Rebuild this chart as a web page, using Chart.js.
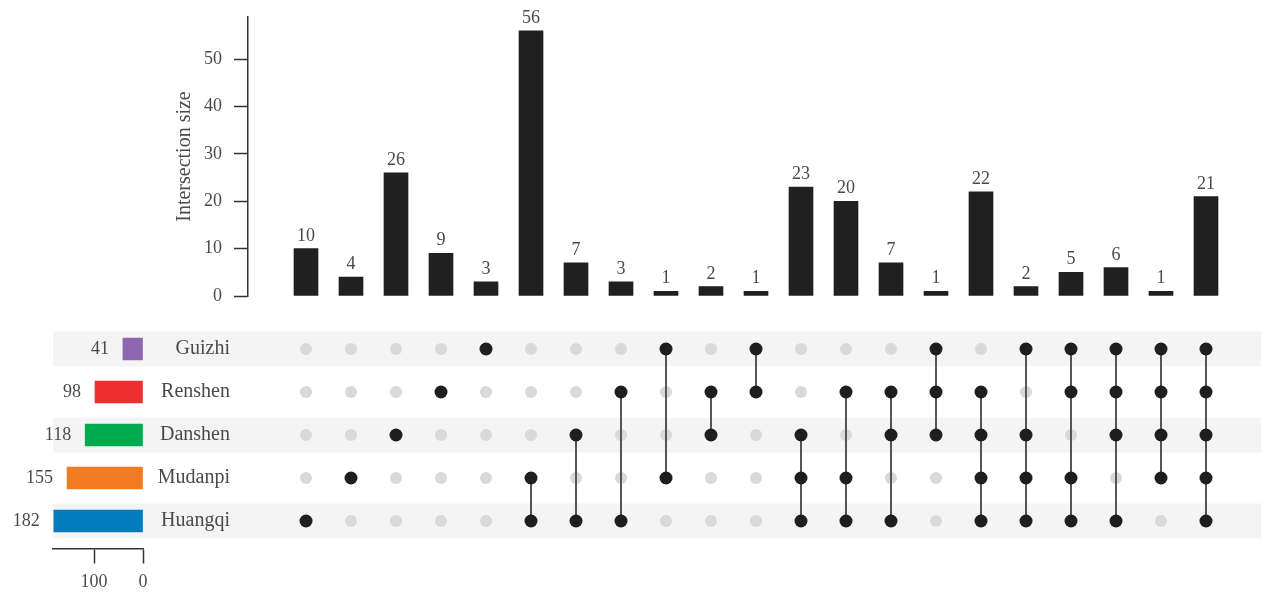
<!DOCTYPE html>
<html>
<head>
<meta charset="utf-8">
<script src="https://cdn.jsdelivr.net/npm/chart.js@4.4.1/dist/chart.umd.min.js"></script>
<style>
  body { margin: 0; background: #fff; }
  #wrap { position: relative; width: 1261px; height: 595px; }
  #wrap canvas { position: absolute; left: 0; top: 0; }
</style>
</head>
<body>
<div id="wrap">
  <canvas id="matrixChart" width="1261" height="595"></canvas>
  <canvas id="setsChart" width="1261" height="595"></canvas>
  <canvas id="barsChart" width="1261" height="595"></canvas>
</div>
<script>
    // data
    const setNames = ['Guizhi', 'Renshen', 'Danshen', 'Mudanpi', 'Huangqi'];
    const setSizes = [41, 98, 118, 155, 182];
    const setColors = ['#8e67b0', '#ee2f2f', '#00aa4e', '#f37c22', '#007bbd'];
    const intersectionSizes = [10, 4, 26, 9, 3, 56, 7, 3, 1, 2, 1, 23, 20, 7, 1, 22, 2, 5, 6, 1, 21];
    const intersectionSets = [
      ['Huangqi'], ['Mudanpi'], ['Danshen'], ['Renshen'], ['Guizhi'],
      ['Mudanpi', 'Huangqi'], ['Danshen', 'Huangqi'], ['Renshen', 'Huangqi'], ['Guizhi', 'Mudanpi'],
      ['Renshen', 'Danshen'], ['Guizhi', 'Renshen'],
      ['Danshen', 'Mudanpi', 'Huangqi'], ['Renshen', 'Mudanpi', 'Huangqi'], ['Renshen', 'Danshen', 'Huangqi'],
      ['Guizhi', 'Renshen', 'Danshen'],
      ['Renshen', 'Danshen', 'Mudanpi', 'Huangqi'], ['Guizhi', 'Danshen', 'Mudanpi', 'Huangqi'],
      ['Guizhi', 'Renshen', 'Mudanpi', 'Huangqi'], ['Guizhi', 'Renshen', 'Danshen', 'Huangqi'],
      ['Guizhi', 'Renshen', 'Danshen', 'Mudanpi'],
      ['Guizhi', 'Renshen', 'Danshen', 'Mudanpi', 'Huangqi']
    ];
    const sizeTicks = [0, 10, 20, 30, 40, 50];
    const setSizeTicks = [0, 100];

    // shared column range so bars and matrix line up
    const colMin = -0.2889, colMax = 21.5;
    const FONT = "'Liberation Serif', 'DejaVu Serif', serif";
    const TEXT = '#4a4a4a';
    const AXIS = '#333333';

    Chart.defaults.font.family = FONT;
    Chart.defaults.font.size = 18;
    Chart.defaults.color = TEXT;

    // Intersection bars
    const barLabels = {
      id: 'barLabels',
      afterDatasetsDraw(chart) {
        const ctx = chart.ctx;
        ctx.save();
        ctx.font = '18px ' + FONT;
        ctx.fillStyle = TEXT;
        ctx.textAlign = 'center';
        ctx.textBaseline = 'alphabetic';
        chart.getDatasetMeta(0).data.forEach((bar, i) => {
          ctx.fillText(String(intersectionSizes[i]), bar.x, bar.y - 8);
        });
        ctx.restore();
      }
    };

    const barsChart = new Chart(document.getElementById('barsChart'), {
      type: 'bar',
      data: {
        datasets: [{
          data: intersectionSizes.map((v, i) => ({ x: i + 1, y: v })),
          backgroundColor: '#202020',
          barThickness: 24
        }]
      },
      options: {
        responsive: false,
        animation: false,
        events: [],
        layout: { padding: { left: 173, top: 17, right: 32.5, bottom: 299 } },
        plugins: { legend: { display: false }, tooltip: { enabled: false } },
        scales: {
          x: { type: 'linear', display: false, offset: false, grid: { offset: false }, bounds: 'data', min: colMin, max: colMax },
          y: {
            min: 0, max: 58.9,
            afterFit: s => { s.width = 75; s.paddingTop = 0; s.paddingBottom = 0; },
            afterBuildTicks: s => { s.ticks = sizeTicks.map(v => ({ value: v })); },
            border: { color: AXIS, width: 1.5 },
            grid: { drawOnChartArea: false, tickLength: 14, color: AXIS, tickWidth: 1.5 },
            ticks: { padding: 12, color: TEXT },
            title: { display: true, text: 'Intersection size', padding: 0, color: TEXT, font: { size: 20 } }
          }
        }
      },
      plugins: [barLabels]
    });

    // Matrix of dots
    const bands = {
      id: 'bands',
      beforeDraw(chart) {
        const y = chart.scales.y, ctx = chart.ctx;
        ctx.save();
        ctx.fillStyle = '#f4f4f4';
        setNames.forEach((n, i) => {
          if (i % 2 === 0) {
            const py = y.getPixelForValue(i);
            ctx.fillRect(53, py - 17.5, chart.width - 53, 35);
          }
        });
        ctx.restore();
      }
    };

    const greyDots = [];
    intersectionSets.forEach((sets, i) => {
      setNames.forEach(n => { if (!sets.includes(n)) greyDots.push({ x: i + 1, y: n }); });
    });
    const memberDatasets = intersectionSets.map((sets, i) => ({
      data: setNames.filter(n => sets.includes(n)).map(n => ({ x: i + 1, y: n })),
      showLine: true,
      borderColor: '#555555',
      borderWidth: 2,
      pointRadius: 6.5,
      pointBorderWidth: 0,
      pointBackgroundColor: '#1e1e1e'
    }));

    const matrixChart = new Chart(document.getElementById('matrixChart'), {
      type: 'scatter',
      data: {
        datasets: memberDatasets.concat([{
          data: greyDots,
          pointRadius: 6,
          pointBorderWidth: 0,
          pointBackgroundColor: '#d8d9db'
        }])
      },
      options: {
        responsive: false,
        animation: false,
        events: [],
        layout: { padding: { left: 0, top: 327.5, right: 32.5, bottom: 52.5 } },
        plugins: { legend: { display: false }, tooltip: { enabled: false } },
        scales: {
          x: { type: 'linear', display: false, min: colMin, max: colMax },
          y: {
            type: 'category',
            labels: setNames,
            offset: true,
            afterFit: s => { s.width = 248; },
            border: { display: false },
            grid: { display: false, drawTicks: false },
            ticks: { padding: 18, color: TEXT, font: { size: 20 } }
          }
        }
      },
      plugins: [bands]
    });

    // Set sizes
    const setLabels = {
      id: 'setLabels',
      afterDatasetsDraw(chart) {
        const ctx = chart.ctx;
        ctx.save();
        ctx.font = '18px ' + FONT;
        ctx.fillStyle = TEXT;
        ctx.textAlign = 'right';
        ctx.textBaseline = 'middle';
        chart.getDatasetMeta(0).data.forEach((bar, i) => {
          ctx.fillText(String(setSizes[i]), bar.x - 14, bar.y);
        });
        ctx.restore();
      }
    };

    const setsChart = new Chart(document.getElementById('setsChart'), {
      type: 'bar',
      data: {
        labels: setNames,
        datasets: [{ data: setSizes, backgroundColor: setColors, barThickness: 22 }]
      },
      options: {
        indexAxis: 'y',
        responsive: false,
        animation: false,
        events: [],
        layout: { padding: { left: 53, top: 327.5, right: 1118, bottom: 52.5 } },
        plugins: { legend: { display: false }, tooltip: { enabled: false } },
        scales: {
          y: { display: false },
          x: {
            min: 0, max: 183.7,
            reverse: true,
            position: { y: 4.651 },
            afterBuildTicks: s => { s.ticks = setSizeTicks.map(v => ({ value: v })); },
            border: { color: AXIS, width: 1.5 },
            grid: { drawOnChartArea: false, tickLength: 14, color: AXIS, tickWidth: 1.5 },
            ticks: { padding: 8, color: TEXT, maxRotation: 0 }
          }
        }
      },
      plugins: [setLabels]
    });
</script>
</body>
</html>
